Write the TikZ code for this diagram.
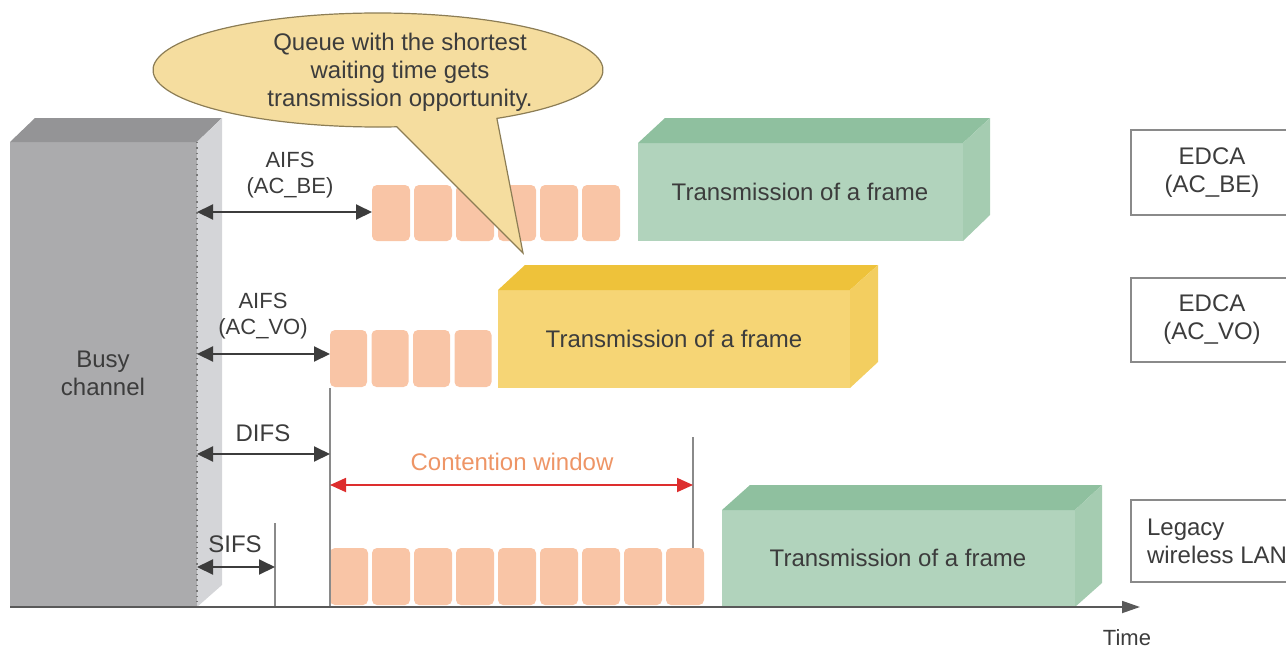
\documentclass[tikz,border=0pt]{standalone}
\usepackage{fontspec}
\setmainfont{Liberation Sans}
\usepackage{xcolor}
\usepackage{tikz}
\usetikzlibrary{arrows.meta}
\definecolor{ink}{HTML}{3C3C3C}
\definecolor{busyfront}{HTML}{ABABAD}
\definecolor{busytop}{HTML}{949496}
\definecolor{busyside}{HTML}{D4D5D8}
\definecolor{greenfront}{HTML}{B1D3BC}
\definecolor{greentop}{HTML}{8FC09F}
\definecolor{greenside}{HTML}{A5CCB1}
\definecolor{yelfront}{HTML}{F6D575}
\definecolor{yeltop}{HTML}{EEC23A}
\definecolor{yelside}{HTML}{F3CE60}
\definecolor{slot}{HTML}{F9C5A6}
\definecolor{bubble}{HTML}{F5DD9F}
\definecolor{bubbleline}{HTML}{8C7D55}
\definecolor{cwred}{HTML}{DD2E2E}
\definecolor{cwtext}{HTML}{EE9566}
\definecolor{rule}{HTML}{8A8A8A}
\tikzset{
  lab/.style={text=ink, font=\fontsize{12}{14}\selectfont, align=center},
  smalllab/.style={text=ink, font=\fontsize{11}{13}\selectfont, align=center},
  span/.style={draw=ink, line width=1pt, {Triangle[length=8pt,width=7.5pt]}-{Triangle[length=8pt,width=7.5pt]}},
  cwspan/.style={draw=cwred, line width=0.9pt, {Triangle[length=8pt,width=7pt]}-{Triangle[length=8pt,width=7pt]}},
  marker/.style={draw=rule, line width=0.8pt},
  backoff/.style={fill=slot, rounded corners=2.5pt},
  legend/.style={draw=rule, line width=0.8pt, fill=white},
  callout/.style={fill=bubble, draw=bubbleline, line width=0.6pt},
  timeaxis/.style={draw=ink!85, line width=0.9pt, -{Triangle[length=9pt,width=6pt]}},
}

\begin{document}
\begin{tikzpicture}[x=0.5pt, y=-0.5pt]
\useasboundingbox (0,0) rectangle (1286,654);
\clip (0,0) rectangle (1286,654);

% busy channel
\fill[busyfront] (10,142) rectangle (197,607);
\fill[busytop] (10,142) -- (35,118) -- (222,118) -- (197,142) -- cycle;
\fill[busyside] (197,142) -- (222,118) -- (222,585) -- (197,607) -- cycle;
\draw[ink!70, dotted, line width=0.7pt] (197,142) -- (197,607);
\node[lab] (busy) at (103,373) {Busy\\channel};

% frames
\fill[greenfront] (638,143) rectangle (963,241);
\fill[greentop] (638,143) -- (665,118) -- (990,118) -- (963,143) -- cycle;
\fill[greenside] (963,143) -- (990,118) -- (990,215) -- (963,241) -- cycle;
\node[lab] (frame-be) at (800,192) {Transmission of a frame};

\fill[yelfront] (498,290) rectangle (850,388);
\fill[yeltop] (498,290) -- (525,265) -- (878,265) -- (850,290) -- cycle;
\fill[yelside] (850,290) -- (878,265) -- (878,362) -- (850,388) -- cycle;
\node[lab] (frame-vo) at (674,339) {Transmission of a frame};

\fill[greenfront] (722,510) rectangle (1075,607);
\fill[greentop] (722,510) -- (750,485) -- (1102,485) -- (1075,510) -- cycle;
\fill[greenside] (1075,510) -- (1102,485) -- (1102,583) -- (1075,607) -- cycle;
\node[lab] (frame-leg) at (898,558) {Transmission of a frame};

% backoff slots
\foreach \i in {0,...,5} \fill[backoff] ({372+42*\i},185) rectangle ++(38,56);
\foreach \i in {0,...,3} \fill[backoff] ({330+41.5*\i},330) rectangle ++(37,57);
\foreach \i in {0,...,8} \fill[backoff] ({330+42*\i},548) rectangle ++(38,57);

% callout
\coordinate (tip) at (523,253);
\filldraw[callout] (378,70) ++(58.1:225 and 57)
  arc[start angle=58.1, end angle=-274.8, x radius=225, y radius=57] -- (tip) -- cycle;
\node[lab] (note) at (400,72) {Queue with the shortest\\waiting time gets\\transmission opportunity.};

% markers
\coordinate (cw-l) at (330,485);
\coordinate (cw-r) at (693,485);
\coordinate (sifs-r) at (275,567);
\draw[marker] (330,388) -- (330,607);
\draw[marker] (693,437) -- (693,548);
\draw[marker] (275,523) -- (275,607);

% time axis
\coordinate (origin) at (10,607);
\coordinate (tend) at (1140,607);
\draw[timeaxis] (origin) -- (tend);
\node[smalllab] (time) at (1127,638) {Time};

% interframe spaces
\coordinate (be-l) at (197,212);
\coordinate (be-r) at (372,212);
\coordinate (vo-l) at (197,354);
\coordinate (vo-r) at (330,354);
\coordinate (difs-l) at (197,454);
\coordinate (difs-r) at (330,454);
\coordinate (sifs-l) at (197,567);
\draw[span] (be-l) -- (be-r);
\draw[span] (vo-l) -- (vo-r);
\draw[span] (difs-l) -- (difs-r);
\draw[span] (sifs-l) -- (sifs-r);
\draw[cwspan] (cw-l) -- (cw-r);
\node[smalllab] (aifs-be) at (290,175) {AIFS\\(AC\_BE)};
\node[smalllab] (aifs-vo) at (263,316) {AIFS\\(AC\_VO)};
\node[lab] (difs) at (263,433) {DIFS};
\node[lab] (sifs) at (235,544) {SIFS};
\node[lab, text=cwtext] (cw) at (512,462) {Contention window};

% legend
\draw[legend] (1131,130) rectangle (1300,215);
\draw[legend] (1131,278) rectangle (1300,362);
\draw[legend] (1131,500) rectangle (1300,582);
\node[lab] (edca-be) at (1212,173) {EDCA\\(AC\_BE)};
\node[lab] (edca-vo) at (1212,320) {EDCA\\(AC\_VO)};
\node[lab, align=left, anchor=west] (legacy) at (1140,541) {Legacy\\wireless LAN};
\end{tikzpicture}
\end{document}
